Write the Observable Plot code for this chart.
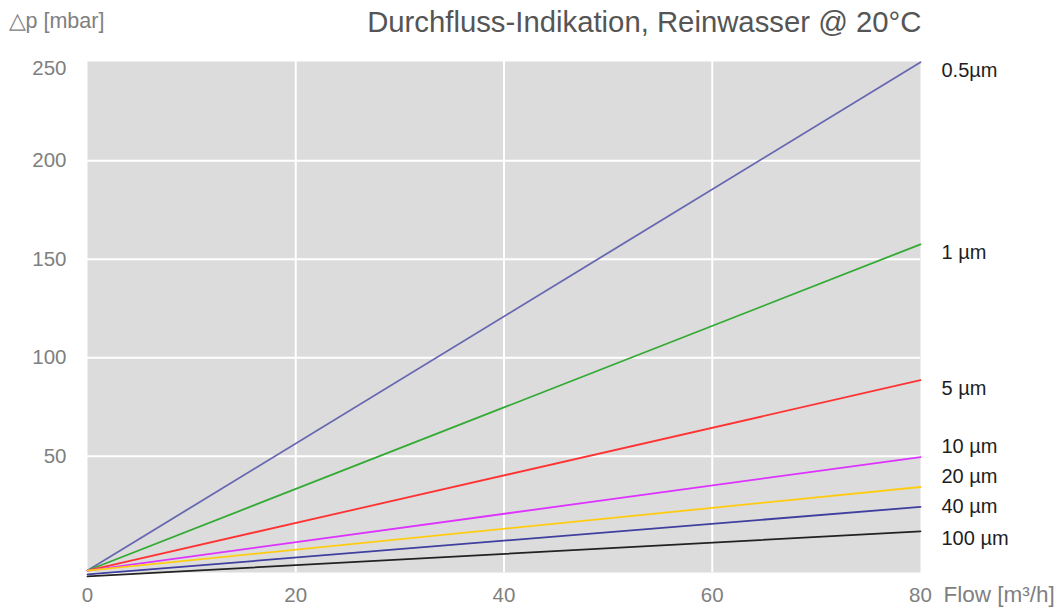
<!DOCTYPE html>
<html>
<head>
<meta charset="utf-8">
<script src="https://cdn.jsdelivr.net/npm/d3@7"></script>
<script src="https://cdn.jsdelivr.net/npm/@observablehq/plot@0.6"></script>
<style>
  html, body { margin: 0; padding: 0; background: #fff; }
  #chart svg { display: block; }
</style>
</head>
<body>
<div id="chart"></div>
<script>
// ---- data ----
const sizes   = ["0.5µm", "1 µm", "5 µm", "10 µm", "20 µm", "40 µm", "100 µm"];
const colors  = ["#6868b2", "#33aa33", "#ff3333", "#dd33ff", "#ffcc11", "#3f3f9f", "#222222"];
const flowRange = [0, 80];                       // m³/h at start and end of each line
const dpAtStart = [-8, -8, -8, -8, -8, -10, -11]; // mbar at flow 0
const dpAtEnd   = [250, 157.6, 88.6, 49.6, 34.4, 24.3, 11.9]; // mbar at flow 80
const labelDp   = [246, 153.6, 84.5, 55, 39.8, 24.6, 8.4];    // where each name sits
const xTicks = [0, 20, 40, 60, 80];
const yTicks = [50, 100, 150, 200, 250];
const xGrid  = [20, 40, 60];
const yGrid  = [50, 100, 150, 200];

// ---- build tables ----
const lines = sizes.flatMap((s, i) => [
  {size: s, flow: flowRange[0], dp: dpAtStart[i]},
  {size: s, flow: flowRange[1], dp: dpAtEnd[i]}
]);
const labels = sizes.map((s, i) => ({size: s, flow: flowRange[1], dp: labelDp[i]}));

const font = "Liberation Sans, Arial, Helvetica, sans-serif";

const chart = Plot.plot({
  width: 1063,
  height: 608,
  marginLeft: 87,
  marginRight: 143,
  marginTop: 61,
  marginBottom: 36,
  style: {fontFamily: font, background: "#fff", overflow: "visible"},
  x: {domain: [0, 80], axis: null},
  y: {domain: [-9, 250.4], axis: null},
  color: {domain: sizes, range: colors},
  marks: [
    Plot.frame({fill: "#dcdcdc", stroke: "none"}),
    Plot.gridX(xGrid, {stroke: "#fff", strokeOpacity: 1, strokeWidth: 2}),
    Plot.gridY(yGrid, {stroke: "#fff", strokeOpacity: 1, strokeWidth: 2}),
    Plot.line(lines, {x: "flow", y: "dp", z: "size", stroke: "size", strokeWidth: 1.8, clip: false}),
    Plot.axisX(xTicks, {tickSize: 0, tickPadding: 15, fontSize: 20.5, fill: "#808080", label: null}),
    Plot.axisY(yTicks.filter(d => d < 250), {tickSize: 0, tickPadding: 21, fontSize: 20.5, fill: "#808080", label: null}),
    Plot.axisY(yTicks.filter(d => d >= 250), {tickSize: 0, tickPadding: 21, fontSize: 20.5, fill: "#808080", label: null, dy: 6}),
    Plot.text(labels, {x: "flow", y: "dp", text: "size", dx: 21, textAnchor: "start", fontSize: 20, fill: "#1e1e1e"}),
    Plot.text(["Flow [m³/h]"], {frameAnchor: "bottom-right", dx: 23, dy: 29, textAnchor: "start", fontSize: 22.5, fill: "#808080"}),
    Plot.text(["△p [mbar]"], {frameAnchor: "top-left", dx: -79, dy: -49, textAnchor: "start", fontSize: 21.5, fill: "#808080"}),
    Plot.text(["Durchfluss-Indikation, Reinwasser @ 20°C"], {frameAnchor: "top-right", dx: 1, dy: -50, textAnchor: "end", fontSize: 29.3, fill: "#555555"})
  ]
});
document.getElementById("chart").appendChild(chart);
</script>
</body>
</html>
